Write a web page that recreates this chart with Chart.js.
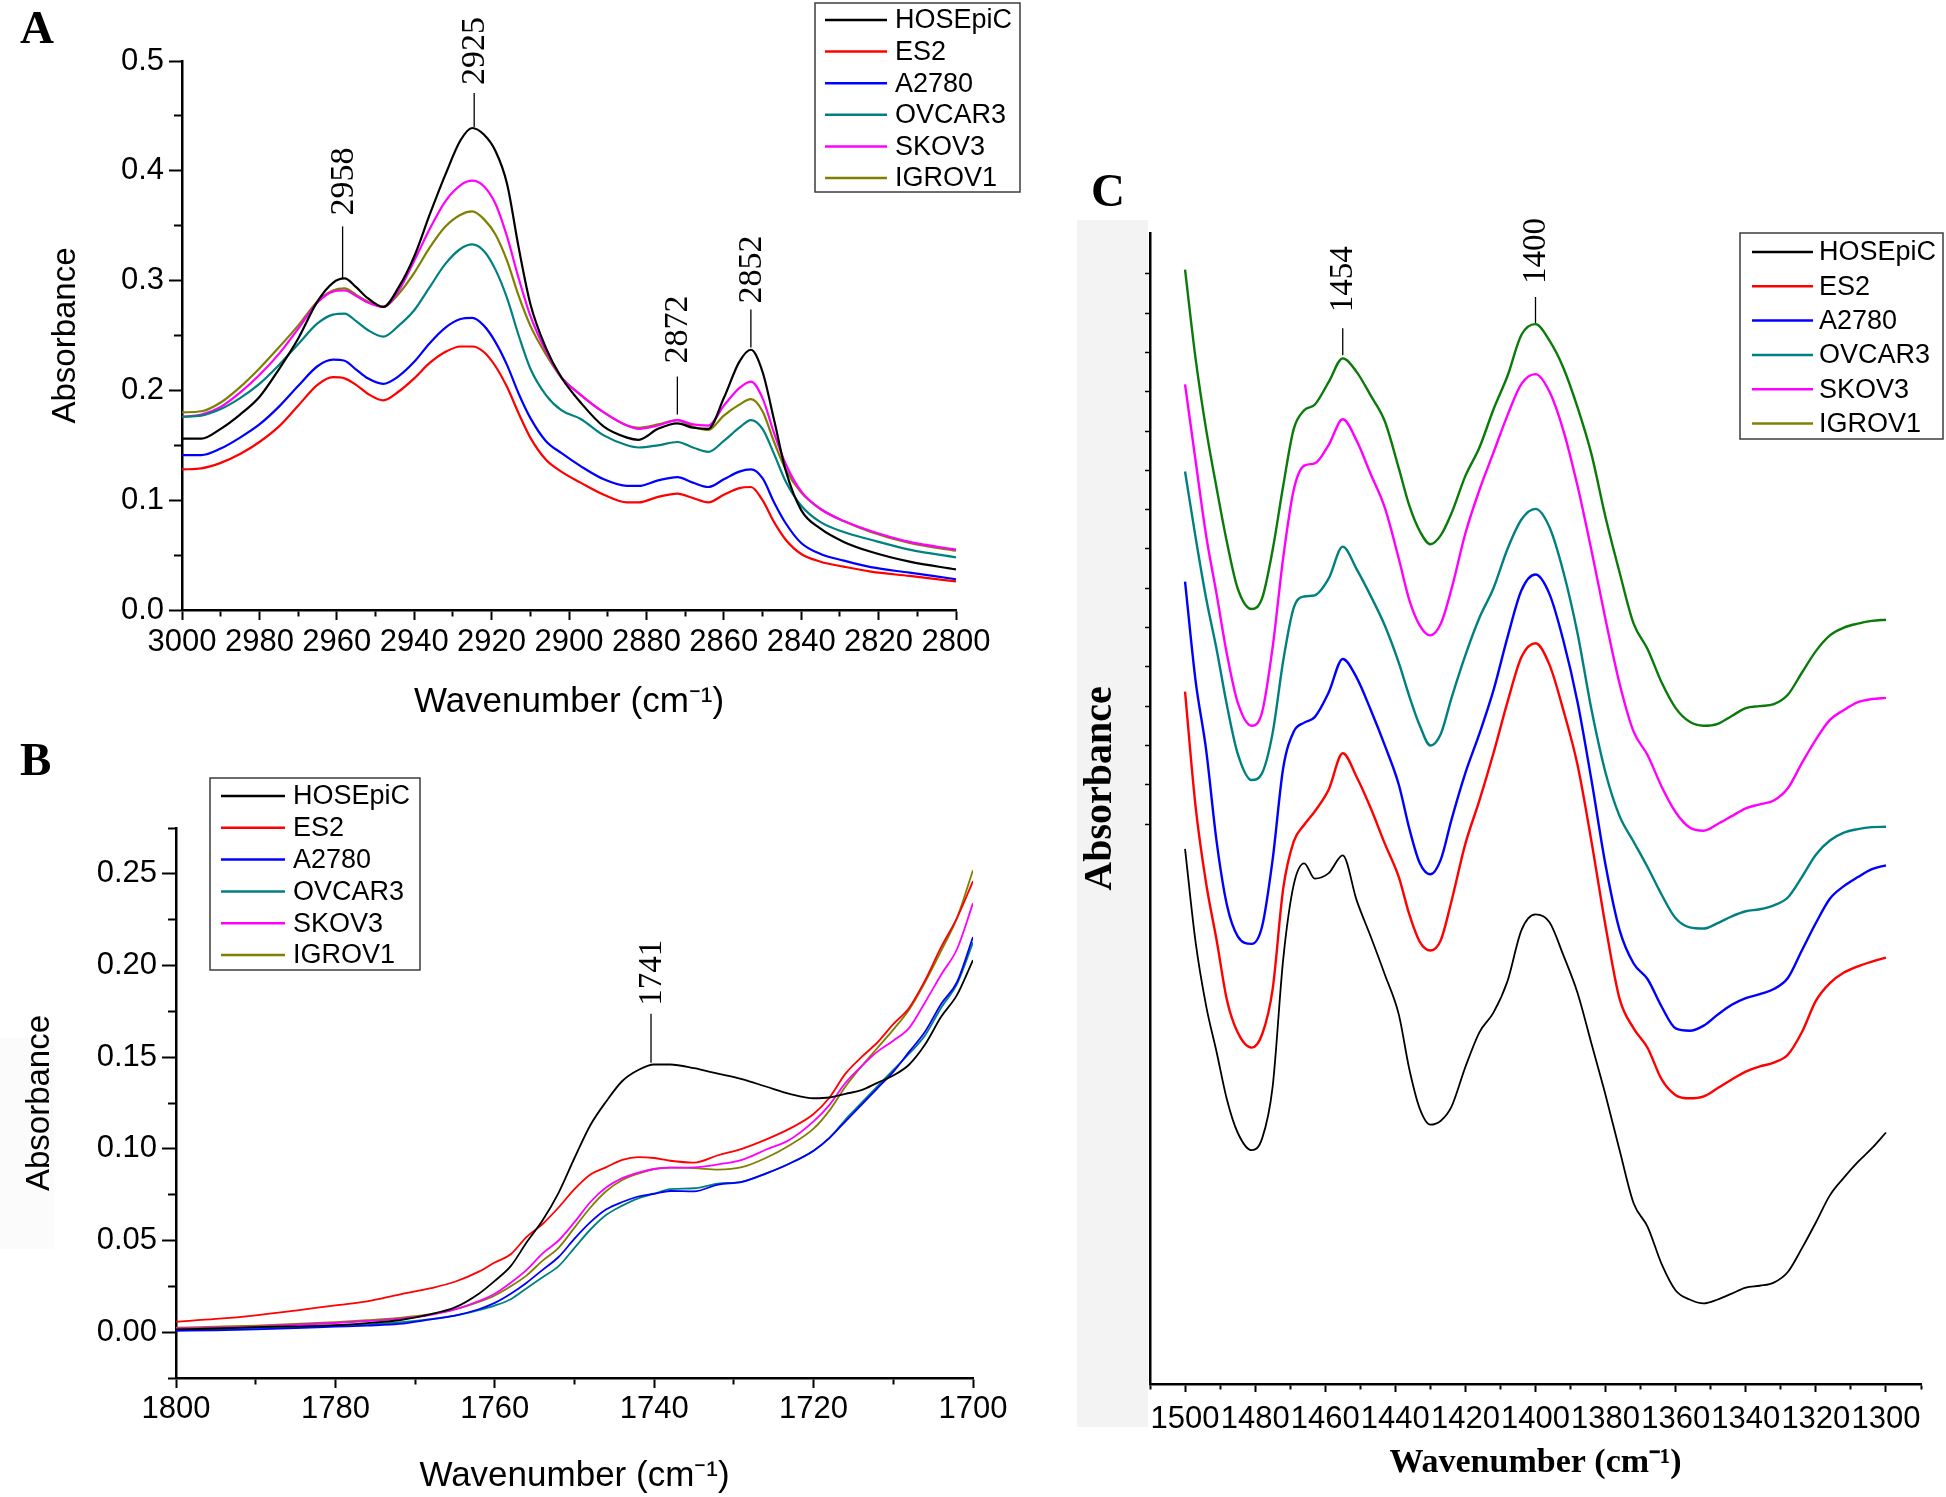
<!DOCTYPE html>
<html>
<head>
<meta charset="utf-8">
<script src="https://cdn.jsdelivr.net/npm/chart.js@4.4.1/dist/chart.umd.min.js"></script>
<style>
  html, body { margin: 0; padding: 0; background: #fff; }
  body { width: 1946px; height: 1497px; position: relative; overflow: hidden; }
  canvas { position: absolute; }
  .tag { position: absolute; font-family: 'Liberation Serif', 'Times New Roman', serif; font-weight: bold; font-size: 47px; line-height: 1; }
</style>
</head>
<body>
<canvas id="chartA" width="1060" height="730" style="left:0;top:0"></canvas>
<canvas id="chartB" width="1060" height="757" style="left:0;top:740px"></canvas>
<canvas id="chartC" width="886" height="1347" style="left:1060px;top:150px"></canvas>
<div class="tag" style="left:20px;top:4px">A</div>
<div class="tag" style="left:20px;top:736px">B</div>
<div class="tag" style="left:1091px;top:167px">C</div>
<script>
const seriesNames = ['HOSEpiC', 'ES2', 'A2780', 'OVCAR3', 'SKOV3', 'IGROV1'];
const seriesColors = ['#000000', '#ff0000', '#0000ff', '#008080', '#ff00ff', '#808000'];

// ---- panel A : 3000-2800 cm-1
const waveA = [3000, 2995, 2990, 2985, 2980, 2975, 2970, 2965, 2961, 2958, 2955, 2952, 2948, 2944, 2940, 2936, 2932, 2928, 2925, 2922, 2919, 2916, 2913, 2910, 2906, 2902, 2897, 2891, 2885, 2882, 2877, 2872, 2868, 2864, 2860, 2856, 2853, 2850, 2847, 2844, 2840, 2835, 2829, 2822, 2812, 2800];
const hosepicA = [0.156, 0.156, 0.165, 0.178, 0.194, 0.219, 0.247, 0.281, 0.298, 0.302, 0.294, 0.284, 0.276, 0.294, 0.322, 0.360, 0.396, 0.428, 0.439, 0.433, 0.418, 0.388, 0.330, 0.279, 0.239, 0.212, 0.189, 0.167, 0.157, 0.155, 0.165, 0.170, 0.166, 0.165, 0.193, 0.226, 0.237, 0.217, 0.173, 0.127, 0.091, 0.074, 0.062, 0.053, 0.044, 0.037];
const es2A = [0.128, 0.129, 0.134, 0.142, 0.153, 0.167, 0.186, 0.205, 0.212, 0.211, 0.205, 0.197, 0.191, 0.199, 0.211, 0.225, 0.235, 0.240, 0.240, 0.235, 0.222, 0.203, 0.179, 0.157, 0.137, 0.126, 0.116, 0.105, 0.098, 0.098, 0.103, 0.106, 0.102, 0.098, 0.105, 0.111, 0.112, 0.100, 0.080, 0.064, 0.051, 0.044, 0.0395, 0.035, 0.031, 0.026];
const a2780A = [0.141, 0.141, 0.147, 0.157, 0.169, 0.185, 0.204, 0.222, 0.228, 0.227, 0.219, 0.211, 0.206, 0.213, 0.226, 0.243, 0.257, 0.265, 0.266, 0.259, 0.244, 0.223, 0.197, 0.175, 0.154, 0.143, 0.131, 0.119, 0.113, 0.113, 0.118, 0.121, 0.116, 0.112, 0.119, 0.126, 0.128, 0.120, 0.098, 0.079, 0.061, 0.051, 0.045, 0.039, 0.034, 0.028];
const ovcar3A = [0.176, 0.177, 0.183, 0.193, 0.206, 0.223, 0.242, 0.261, 0.269, 0.270, 0.263, 0.255, 0.249, 0.259, 0.273, 0.294, 0.315, 0.329, 0.333, 0.327, 0.310, 0.284, 0.250, 0.220, 0.196, 0.182, 0.174, 0.159, 0.150, 0.148, 0.150, 0.153, 0.148, 0.144, 0.154, 0.166, 0.173, 0.165, 0.142, 0.117, 0.095, 0.080, 0.071, 0.064, 0.055, 0.048];
const skov3A = [0.176, 0.178, 0.185, 0.198, 0.214, 0.233, 0.256, 0.280, 0.290, 0.291, 0.286, 0.280, 0.276, 0.291, 0.318, 0.347, 0.372, 0.387, 0.391, 0.386, 0.370, 0.340, 0.302, 0.268, 0.236, 0.212, 0.196, 0.180, 0.168, 0.165, 0.168, 0.173, 0.169, 0.168, 0.186, 0.202, 0.208, 0.193, 0.161, 0.133, 0.108, 0.092, 0.081, 0.072, 0.062, 0.055];
const igrov1A = [0.180, 0.181, 0.189, 0.203, 0.220, 0.239, 0.259, 0.281, 0.291, 0.293, 0.287, 0.281, 0.276, 0.288, 0.307, 0.330, 0.349, 0.360, 0.363, 0.356, 0.342, 0.318, 0.286, 0.259, 0.233, 0.212, 0.196, 0.180, 0.168, 0.166, 0.169, 0.173, 0.167, 0.164, 0.177, 0.187, 0.192, 0.181, 0.153, 0.128, 0.107, 0.092, 0.081, 0.071, 0.061, 0.054];
const peakLabelsA = ['2958', '2925', '2872', '2852'];
const peakPosA = [2958.5, 2924.5, 2872, 2853];
const peakTopA = [0.302, 0.440, 0.178, 0.239];

// ---- panel B : 1800-1700 cm-1
const waveB = [1800, 1795, 1790, 1785, 1780, 1776, 1772, 1768, 1765, 1762, 1760, 1758, 1756, 1754, 1752, 1750, 1748, 1746, 1744, 1742, 1740, 1738, 1735, 1732, 1729, 1726, 1723, 1720, 1718, 1716, 1714, 1712, 1710, 1708, 1706, 1704, 1702, 1700];
const hosepicB = [0.0015, 0.002, 0.0027, 0.0032, 0.0038, 0.0049, 0.0065, 0.0098, 0.0135, 0.021, 0.028, 0.036, 0.049, 0.061, 0.076, 0.095, 0.113, 0.126, 0.137, 0.143, 0.146, 0.146, 0.144, 0.141, 0.138, 0.134, 0.130, 0.1276, 0.128, 0.130, 0.132, 0.136, 0.140, 0.146, 0.157, 0.172, 0.184, 0.203];
const es2B = [0.0057, 0.0072, 0.0092, 0.0118, 0.0146, 0.0168, 0.0205, 0.024, 0.0275, 0.033, 0.038, 0.0425, 0.052, 0.059, 0.068, 0.078, 0.086, 0.090, 0.094, 0.0955, 0.095, 0.0935, 0.0925, 0.0965, 0.100, 0.105, 0.111, 0.119, 0.128, 0.141, 0.150, 0.158, 0.168, 0.177, 0.192, 0.210, 0.226, 0.246];
const a2780B = [0.0007, 0.001, 0.0015, 0.0022, 0.003, 0.0036, 0.0045, 0.007, 0.009, 0.0125, 0.016, 0.021, 0.027, 0.034, 0.041, 0.051, 0.060, 0.067, 0.071, 0.074, 0.0755, 0.077, 0.0768, 0.0805, 0.082, 0.0865, 0.092, 0.099, 0.106, 0.115, 0.124, 0.133, 0.142, 0.153, 0.164, 0.179, 0.191, 0.2155];
const ovcar3B = [0.0011, 0.0015, 0.0022, 0.0028, 0.0035, 0.0042, 0.0053, 0.0071, 0.009, 0.012, 0.0145, 0.018, 0.024, 0.030, 0.036, 0.046, 0.056, 0.064, 0.069, 0.073, 0.0755, 0.078, 0.0785, 0.081, 0.082, 0.0865, 0.092, 0.099, 0.106, 0.116, 0.125, 0.134, 0.143, 0.152, 0.162, 0.177, 0.190, 0.2126];
const skov3B = [0.002, 0.0025, 0.003, 0.004, 0.005, 0.006, 0.0072, 0.0095, 0.0124, 0.017, 0.021, 0.027, 0.034, 0.043, 0.050, 0.060, 0.071, 0.079, 0.084, 0.087, 0.089, 0.0897, 0.0899, 0.0915, 0.094, 0.0995, 0.105, 0.115, 0.124, 0.136, 0.145, 0.153, 0.159, 0.166, 0.180, 0.195, 0.209, 0.234];
const igrov1B = [0.0025, 0.003, 0.0036, 0.0045, 0.0055, 0.0065, 0.0078, 0.0098, 0.0124, 0.0165, 0.020, 0.025, 0.031, 0.039, 0.046, 0.057, 0.068, 0.077, 0.083, 0.0865, 0.089, 0.0897, 0.0895, 0.0887, 0.090, 0.095, 0.102, 0.111, 0.121, 0.134, 0.145, 0.155, 0.165, 0.176, 0.191, 0.208, 0.226, 0.252];
const peakLabelsB = ['1741'];
const peakPosB = [1740.4];
const peakTopB = [0.147];

// ---- panel C : 1500-1300 cm-1, stacked curves in arbitrary units
const waveC = [1500, 1497, 1494, 1491, 1488, 1485, 1481, 1478, 1475, 1472, 1469, 1466, 1463, 1459, 1455, 1451, 1447, 1443, 1439, 1436, 1433, 1430, 1427, 1424, 1420, 1416, 1412, 1408, 1404, 1400, 1396, 1392, 1388, 1384, 1380, 1376, 1372, 1368, 1364, 1360, 1356, 1352, 1348, 1344, 1340, 1336, 1332, 1328, 1324, 1320, 1316, 1312, 1308, 1304, 1300];
const hosepicC = [-0.63, -3.0, -4.62, -5.8, -7.03, -7.85, -8.3, -8.0, -6.68, -3.45, -1.55, -1.0, -1.39, -1.25, -0.8, -1.95, -2.87, -3.83, -4.85, -6.24, -7.25, -7.65, -7.55, -7.2, -6.18, -5.3, -4.8, -4.0, -2.7, -2.3, -2.5, -3.35, -4.3, -5.6, -6.9, -8.3, -9.65, -10.25, -11.2, -11.87, -12.1, -12.2, -12.1, -11.95, -11.8, -11.75, -11.67, -11.4, -10.8, -10.14, -9.45, -9.0, -8.6, -8.25, -7.85];
const es2C = [3.37, 0.45, -1.5, -2.95, -4.5, -5.3, -5.69, -5.35, -4.2, -1.65, -0.45, -0.02, 0.32, 0.88, 1.8, 1.19, 0.4, -0.5, -1.35, -2.3, -3.0, -3.22, -2.95, -1.97, -0.5, 0.6, 1.8, 3.1, 4.25, 4.6, 4.05, 2.88, 1.5, -0.46, -2.6, -4.45, -5.2, -5.7, -6.5, -6.9, -6.98, -6.93, -6.72, -6.5, -6.3, -6.17, -6.07, -5.87, -5.3, -4.5, -4.05, -3.78, -3.62, -3.5, -3.4];
const a2780C = [6.17, 3.65, 1.9, -0.44, -2.08, -2.85, -3.05, -2.6, -0.9, 1.42, 2.35, 2.58, 2.72, 3.35, 4.2, 3.72, 2.9, 2.0, 1.0, -0.12, -1.0, -1.28, -0.9, 0.1, 1.3, 2.3, 3.4, 4.75, 5.95, 6.35, 5.85, 4.65, 3.1, 1.1, -1.05, -2.7, -3.55, -3.95, -4.65, -5.2, -5.26, -5.13, -4.85, -4.6, -4.43, -4.33, -4.2, -3.92, -3.22, -2.52, -1.9, -1.58, -1.35, -1.15, -1.05];
const ovcar3C = [8.97, 7.3, 5.75, 4.45, 3.0, 1.8, 1.12, 1.3, 2.32, 4.15, 5.5, 5.79, 5.82, 6.25, 7.06, 6.48, 5.8, 5.05, 4.1, 3.25, 2.5, 2.0, 2.3, 3.2, 4.3, 5.25, 6.0, 7.0, 7.75, 8.02, 7.55, 6.4, 4.85, 2.9, 1.3, 0.2, -0.45, -1.1, -1.8, -2.4, -2.63, -2.66, -2.52, -2.35, -2.22, -2.17, -2.07, -1.87, -1.35, -0.78, -0.42, -0.22, -0.13, -0.08, -0.07];
const skov3C = [11.19, 9.25, 7.35, 5.85, 4.3, 3.1, 2.5, 2.85, 4.5, 6.77, 8.5, 9.12, 9.18, 9.65, 10.3, 9.75, 8.9, 8.05, 6.75, 5.7, 5.05, 4.8, 5.1, 5.97, 7.4, 8.5, 9.45, 10.4, 11.2, 11.45, 11.0, 10.0, 8.6, 6.95, 5.2, 3.57, 2.35, 1.75, 0.95, 0.3, -0.09, -0.17, 0.0, 0.2, 0.4, 0.5, 0.6, 0.91, 1.55, 2.15, 2.65, 2.9, 3.1, 3.18, 3.21];
const igrov1C = [14.11, 11.85, 10.05, 8.55, 7.15, 6.0, 5.47, 5.75, 6.98, 8.6, 10.05, 10.53, 10.67, 11.25, 11.85, 11.5, 10.9, 10.25, 9.05, 8.1, 7.45, 7.12, 7.35, 7.9, 8.86, 9.58, 10.55, 11.4, 12.45, 12.72, 12.3, 11.6, 10.6, 9.4, 7.8, 6.4, 5.1, 4.45, 3.6, 2.95, 2.6, 2.5, 2.55, 2.75, 2.95, 3.0, 3.05, 3.29, 3.85, 4.4, 4.8, 5.0, 5.1, 5.17, 5.2];
const peakLabelsC = ['1454', '1400'];
const peakPosC = [1455, 1400];
const peakTopC = [11.93, 12.75];
const tickValuesCy = [0, 1, 2, 3, 4, 5, 6, 7, 8, 9, 10, 11, 12, 13, 14];

const SANS = "'Liberation Sans', Arial, Helvetica, sans-serif";
const SERIF = "'Liberation Serif', 'Times New Roman', Times, serif";

function isMajor(v, step) {
  const r = v / step;
  return Math.abs(r - Math.round(r)) < 1e-6;
}

// minor ticks: dash the tick so only the piece next to the axis shows
function bottomDash(step, minorLen) {
  return ctx => (ctx.tick && !isMajor(ctx.tick.value, step)) ? [minorLen, 300] : [];
}
function leftDash(step, tl, minorLen) {
  return ctx => (ctx.tick && !isMajor(ctx.tick.value, step)) ? [0, tl - 1 - minorLen, minorLen + 3, 300] : [];
}

const boxLegend = {
  id: 'boxLegend',
  afterDraw(chart, args, o) {
    const c = chart.ctx;
    c.save();
    c.fillStyle = '#fff';
    c.fillRect(o.x, o.y, o.w, o.h);
    c.strokeStyle = '#3c3c3c';
    c.lineWidth = 1.5;
    c.strokeRect(o.x, o.y, o.w, o.h);
    c.font = '27px ' + SANS;
    c.textBaseline = 'middle';
    c.textAlign = 'left';
    chart.data.datasets.forEach((ds, i) => {
      const y = o.firstRow + i * o.rowGap;
      c.strokeStyle = ds.legendColor || ds.borderColor;
      c.lineWidth = 2.5;
      c.beginPath();
      c.moveTo(o.lineX0, y);
      c.lineTo(o.lineX1, y);
      c.stroke();
      c.fillStyle = '#000';
      c.fillText(ds.label, o.textX, y + 1);
    });
    c.restore();
  }
};

const peakMarks = {
  id: 'peakMarks',
  afterDatasetsDraw(chart, args, o) {
    const c = chart.ctx;
    const xs = chart.scales.x, ys = chart.scales.y;
    c.save();
    c.strokeStyle = '#000';
    c.fillStyle = '#000';
    c.lineWidth = 1.3;
    c.font = o.fontSize + 'px ' + SERIF;
    o.labels.forEach((lab, i) => {
      const px = xs.getPixelForValue(o.pos[i]);
      const py = ys.getPixelForValue(o.top[i]);
      c.beginPath();
      c.moveTo(px, py);
      c.lineTo(px, py - o.len[i]);
      c.stroke();
      c.save();
      c.translate(px + 1, py - o.len[i] - o.gap[i]);
      c.rotate(-Math.PI / 2);
      c.textAlign = 'left';
      c.textBaseline = 'middle';
      c.fillText(lab, 0, 0);
      c.restore();
    });
    c.restore();
  }
};

const shade = {
  id: 'shade',
  beforeDraw(chart, args, o) {
    const c = chart.ctx;
    c.save();
    c.fillStyle = o.color;
    c.fillRect(o.x, o.y, o.w, o.h);
    c.restore();
  }
};

function makeSets(xs, rows, width) {
  return seriesNames.map((name, i) => ({
    label: name,
    data: xs.map((w, k) => ({ x: w, y: rows[i][k] })),
    borderColor: seriesColors[i],
    borderWidth: width,
    pointRadius: 0,
    cubicInterpolationMode: 'monotone',
    fill: false
  }));
}

function xAxis(o) {
  return {
    type: 'linear', reverse: true, min: o.min, max: o.max,
    afterFit: s => { s.height = o.height; },
    border: { display: true, color: '#000', width: 2.5 },
    grid: {
      drawOnChartArea: false, drawTicks: true, tickLength: o.tl,
      tickColor: '#000', tickWidth: 2, tickBorderDash: bottomDash(o.labelStep, o.minor)
    },
    ticks: {
      stepSize: o.step, autoSkip: false, maxRotation: 0, minRotation: 0,
      padding: o.pad, color: '#000', font: { family: SANS, size: 31 },
      callback: v => isMajor(v, o.labelStep) ? String(Math.round(v)) : ''
    },
    title: {
      display: true, text: 'Wavenumber (cm\u207B\u00B9)', color: '#000',
      font: o.titleFont, padding: { top: 0, bottom: o.titlePad }
    }
  };
}

function yAxis(o) {
  return {
    type: 'linear', min: o.min, max: o.max,
    afterFit: s => { s.width = o.width; },
    border: { display: true, color: '#000', width: 2.5 },
    grid: {
      drawOnChartArea: false, drawTicks: true, tickLength: o.tl,
      tickColor: '#000', tickWidth: 2, tickBorderDash: leftDash(o.labelStep, o.tl, o.minor)
    },
    ticks: {
      stepSize: o.step, autoSkip: false, padding: o.pad, color: '#000',
      font: { family: SANS, size: 31 },
      callback: v => isMajor(v, o.labelStep) ? v.toFixed(o.digits) : ''
    },
    title: {
      display: true, text: 'Absorbance', color: '#000',
      font: { family: SANS, size: 33 }, padding: { top: o.titlePad, bottom: 0 }
    }
  };
}

const base = { responsive: false, animation: false, devicePixelRatio: 1, events: [] };

// A
new Chart(document.getElementById('chartA'), {
  type: 'line',
  data: { datasets: makeSets(waveA, [hosepicA, es2A, a2780A, ovcar3A, skov3A, igrov1A], 2.2) },
  options: Object.assign({}, base, {
    layout: { padding: { top: 61, right: 104, left: 0, bottom: 0 } },
    plugins: {
      legend: { display: false }, tooltip: { enabled: false },
      boxLegend: { x: 815, y: 3, w: 205, h: 189, firstRow: 20, rowGap: 31.6, lineX0: 825, lineX1: 887, textX: 895 },
      peakMarks: { labels: peakLabelsA, pos: peakPosA, top: peakTopA, len: [52, 34, 38, 38], gap: [11, 8, 13, 6], fontSize: 34 }
    },
    scales: {
      x: xAxis({ min: 2800, max: 3000, step: 10, labelStep: 20, height: 120, tl: 10, minor: 5, pad: 4,
                 titleFont: { family: SANS, size: 35 }, titlePad: 7 }),
      y: yAxis({ min: 0, max: 0.5, step: 0.05, labelStep: 0.1, digits: 1, width: 182, tl: 13, minor: 7, pad: 5, titlePad: 46 })
    }
  }),
  plugins: [boxLegend, peakMarks]
});

// B
new Chart(document.getElementById('chartB'), {
  type: 'line',
  data: { datasets: makeSets(waveB, [hosepicB, es2B, a2780B, ovcar3B, skov3B, igrov1B], 1.8) },
  options: Object.assign({}, base, {
    layout: { padding: { top: 88, right: 87, left: 0, bottom: 0 } },
    plugins: {
      legend: { display: false }, tooltip: { enabled: false },
      shade: { x: 0, y: 298, w: 54, h: 211, color: '#fbfbfb' },
      boxLegend: { x: 210, y: 38, w: 210, h: 192, firstRow: 56, rowGap: 31.8, lineX0: 221, lineX1: 285, textX: 293 },
      peakMarks: { labels: peakLabelsB, pos: peakPosB, top: peakTopB, len: [49], gap: [8], fontSize: 33 }
    },
    scales: {
      x: xAxis({ min: 1700, max: 1800, step: 10, labelStep: 20, height: 119, tl: 10, minor: 5, pad: 3,
                 titleFont: { family: SANS, size: 35 }, titlePad: 0 }),
      y: yAxis({ min: -0.025, max: 0.275, step: 0.025, labelStep: 0.05, digits: 2, width: 176, tl: 14, minor: 7, pad: 5, titlePad: 20 })
    }
  }),
  plugins: [shade, boxLegend, peakMarks]
});

// C
const setsC = makeSets(waveC, [hosepicC, es2C, a2780C, ovcar3C, skov3C, igrov1C], 2.4);
setsC[0].borderWidth = 1.8;
setsC[5].borderColor = '#0a7a0a';
setsC[5].legendColor = '#808000';
new Chart(document.getElementById('chartC'), {
  type: 'line',
  data: { datasets: setsC },
  options: Object.assign({}, base, {
    layout: { padding: { top: 83, right: 25, left: 0, bottom: 0 } },
    plugins: {
      legend: { display: false }, tooltip: { enabled: false },
      shade: { x: 17, y: 70, w: 71, h: 1207, color: '#f3f3f3' },
      boxLegend: { x: 680, y: 83, w: 203, h: 206, firstRow: 102, rowGap: 34.3, lineX0: 692, lineX1: 753, textX: 759 },
      peakMarks: { labels: peakLabelsC, pos: peakPosC, top: peakTopC, len: [27, 26], gap: [16, 13], fontSize: 33 }
    },
    scales: {
      x: xAxis({ min: 1290, max: 1510, step: 10, labelStep: 20, height: 113, tl: 8, minor: 4, pad: 9,
                 titleFont: { family: SERIF, size: 34, weight: 'bold' }, titlePad: 13 }),
      y: {
        type: 'linear', min: -14.25, max: 15.04,
        afterFit: s => { s.width = 90; },
        afterBuildTicks: s => { s.ticks = tickValuesCy.map(v => ({ value: v })); },
        border: { display: true, color: '#000', width: 2.5 },
        grid: { drawOnChartArea: false, drawTicks: true, tickLength: 5, tickColor: '#000', tickWidth: 1.5 },
        ticks: { display: false },
        title: {
          display: true, text: '\u2002\u2002Absorbance', color: '#000',
          font: { family: SERIF, size: 40, weight: 'bold' }, padding: { top: 17, bottom: 0 }
        }
      }
    }
  }),
  plugins: [shade, boxLegend, peakMarks]
});
</script>
</body>
</html>
